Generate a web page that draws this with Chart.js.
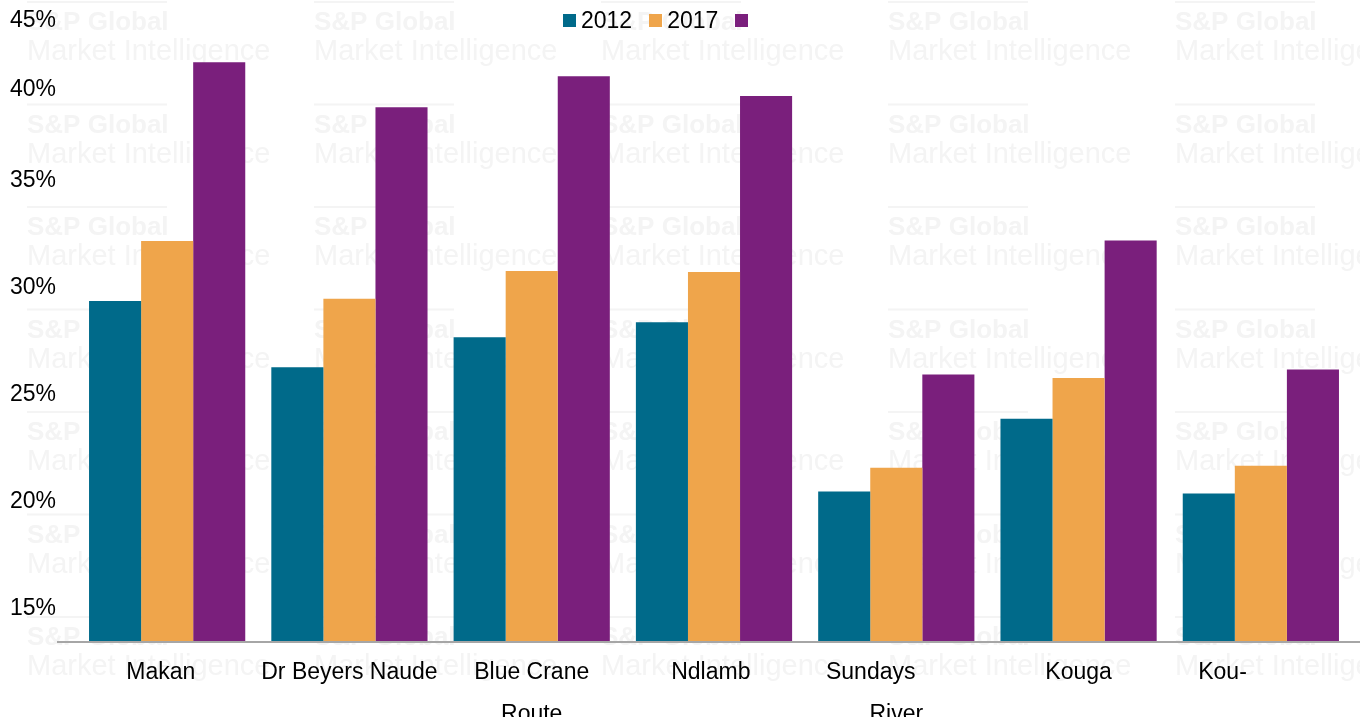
<!DOCTYPE html>
<html>
<head>
<meta charset="utf-8">
<script src="https://cdn.jsdelivr.net/npm/chart.js@4.4.1/dist/chart.umd.min.js"></script>
<style>
  html, body { margin: 0; padding: 0; background: #fff; }
  #wrap { position: relative; width: 1360px; height: 717px; }
  #legend { position: absolute; top: 9px; left: 563px; display: flex; align-items: center;
            font: 23px 'Liberation Sans', Arial, sans-serif; color: #000; line-height: 1; }
  .item { display: flex; align-items: center; margin-right: 17px; }
  .box { width: 13px; height: 13px; margin-right: 5px; }
</style>
</head>
<body>
<div id="wrap">
  <canvas id="chart"></canvas>
  <div id="legend"></div>
</div>
<script>
// municipalities (trailing spaces keep the wrapped labels where the layout had them)
const categories = ['Makan  ', 'Dr Beyers Naude', ['Blue Crane', 'Route'], 'Ndlamb ',
                    ['Sundays        ', 'River'], 'Kouga', 'Kou-            '];
const seriesLabels = ['2012', '2017', ''];
const seriesColors = ['#006a8a', '#efa54b', '#7a1f7c'];

const values2012 = [29.3, 26.2, 27.6, 28.3, 20.4, 23.8, 20.3];
const values2017 = [32.1, 29.4, 30.7, 30.65, 21.5, 25.7, 21.6];
const values3rd  = [40.45, 38.35, 39.8, 38.87, 25.86, 32.12, 26.09];
const seriesValues = [values2012, values2017, values3rd];

const yTicks = [15, 20, 25, 30, 35, 40, 45];
const FONT = "'Liberation Sans', Arial, sans-serif";

// faint branding pattern behind everything
const watermark = {
    id: 'watermark',
    beforeDraw(chart) {
        const ctx = chart.ctx;
        ctx.save();
        ctx.fillStyle = '#f4f4f4';
        ctx.textBaseline = 'alphabetic';
        for (let col = 0; col < 5; col++) {
            for (let row = 0; row < 8; row++) {
                const x = 27 + col * 287;
                const y = 2 + row * 102.5;
                ctx.fillRect(x, y - 1, 140, 2);
                ctx.font = 'bold 26px ' + FONT;
                ctx.fillText('S&P Global', x, y + 28);
                ctx.font = '29px ' + FONT;
                ctx.fillText('Market Intelligence', x, y + 58);
            }
        }
        ctx.restore();
    }
};

// value axis labels; the top ones get pushed down so they stay on the canvas
const yLabels = {
    id: 'yLabels',
    afterDraw(chart) {
        const scale = chart.scales.y;
        const ctx = chart.ctx;
        const minGap = 69;
        ctx.save();
        ctx.font = '23px ' + FONT;
        ctx.fillStyle = '#000';
        ctx.textAlign = 'right';
        ctx.textBaseline = 'middle';
        let prev = 19 - minGap;
        [...yTicks].sort((a, b) => b - a).forEach(v => {
            const py = Math.max(scale.getPixelForValue(v), prev + minGap);
            ctx.fillText(v + '%', chart.chartArea.left - 20, py + 2);
            prev = py;
        });
        ctx.restore();
    }
};

// grey category baseline, running a little past the plot on the left
const baseline = {
    id: 'baseline',
    afterDatasetsDraw(chart) {
        const { ctx, chartArea } = chart;
        ctx.save();
        ctx.fillStyle = '#a6a6a6';
        ctx.fillRect(chartArea.left - 19, chartArea.bottom, chart.width - chartArea.left + 19, 2);
        ctx.restore();
    }
};

// legend
const legendEl = document.getElementById('legend');
seriesLabels.forEach((label, i) => {
    const item = document.createElement('div');
    item.className = 'item';
    item.innerHTML = `<span class="box" style="background:${seriesColors[i]}"></span><span>${label}</span>`;
    legendEl.appendChild(item);
});

new Chart(document.getElementById('chart'), {
    type: 'bar',
    data: {
        labels: categories,
        datasets: seriesLabels.map((label, i) => ({
            label: label,
            data: seriesValues[i],
            backgroundColor: seriesColors[i],
            categoryPercentage: 0.857,
            barPercentage: 1
        }))
    },
    options: {
        responsive: true,
        maintainAspectRatio: false,
        animation: false,
        layout: { padding: { left: 76, right: 8, top: 0, bottom: 0 } },
        plugins: {
            legend: { display: false },
            tooltip: { enabled: false }
        },
        scales: {
            x: {
                grid: { display: false, drawTicks: false },
                border: { display: false },
                ticks: {
                    color: '#000',
                    font: { family: FONT, size: 23, lineHeight: 1.83 },
                    padding: 11,
                    maxRotation: 0,
                    autoSkip: false
                },
                afterFit(scale) { scale.height = 76; }
            },
            y: { display: false, min: 13.41, max: 43.36 }
        }
    },
    plugins: [watermark, yLabels, baseline]
});
</script>
</body>
</html>
